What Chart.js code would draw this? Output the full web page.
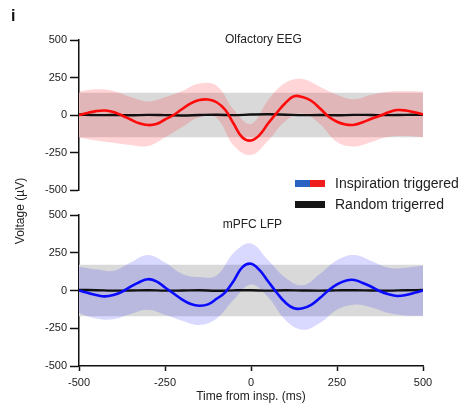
<!DOCTYPE html>
<html>
<head>
<meta charset="utf-8">
<script src="https://cdn.jsdelivr.net/npm/chart.js@4.4.1/dist/chart.umd.min.js"></script>
<style>
  html, body { margin: 0; background: #fff; }
  #wrap { position: relative; width: 461px; height: 403px; }
  #wrap canvas { position: absolute; left: 0; top: 0; }
</style>
</head>
<body>
<div id="wrap">
  <canvas id="eeg" width="461" height="403"></canvas>
  <canvas id="lfp" width="461" height="403"></canvas>
</div>
<script>
// time axis (ms from inspiration onset)
const tFine = [-500, -475, -450, -425, -400, -375, -350, -325, -300, -275, -250, -225, -200, -175, -150, -125, -100, -75, -50, -25,
  0, 25, 50, 75, 100, 125, 150, 175, 200, 225, 250, 275, 300, 325, 350, 375, 400, 425, 450, 475, 500];
const tBand = [-500, -450, -400, -350, -300, -250, -200, -150, -100, -50, 0, 50, 100, 150, 200, 250, 300, 350, 400, 450, 500];
const tEdge = [-500, 500];

const xTicks = [-500, -250, 0, 250, 500];
const yTicks = [-500, -250, 0, 250, 500];

// olfactory EEG, inspiration triggered (µV)
const eegMean = [0, 14, 26, 30, 20, -3, -30, -55, -67, -60, -30, 0, 40, 78, 100, 103, 85, 35, -60, -150,
  -170, -133, -55, 15, 80, 125, 120, 95, 45, -10, -45, -63, -65, -48, -25, -5, 18, 33, 30, 18, 4];
const eegUpper = [156, 171, 160, 120, 90, 118, 160, 210, 195, 35, -60, 100, 215, 240, 188, 135, 105, 135, 155, 158, 156];
const eegLower = [-150, -170, -185, -200, -207, -150, -80, -15, -20, -205, -267, -170, -40, 10, -60, -180, -210, -180, -145, -140, -148];
// olfactory EEG, random triggered
const eegRandom = [3, -1, 0, -2, 1, -1, -3, 0, 2, -1, 3, 5, 2, -1, 0, -2, 1, 0, -1, 1, 2];
const eegRandomUpper = [148, 148];
const eegRandomLower = [-148, -148];

// mPFC LFP, inspiration triggered (µV)
const lfpMean = [0, -15, -30, -39, -30, -8, 25, 55, 75, 60, 20, -20, -60, -90, -101, -92, -55, -12, 65, 155,
  177, 135, 60, -15, -80, -118, -118, -95, -50, 0, 40, 65, 70, 50, 25, -5, -25, -36, -30, -15, 0];
const lfpUpper = [158, 140, 130, 185, 235, 185, 110, 90, 100, 250, 312, 200, 85, 35, 110, 200, 235, 195, 150, 150, 165];
const lfpLower = [-150, -185, -190, -155, -127, -160, -200, -228, -185, -60, 40, -45, -195, -260, -215, -127, -94, -112, -149, -165, -167];
// mPFC LFP, random triggered
const lfpRandom = [4, 2, -1, 0, 2, -1, 0, 2, -2, 1, 2, -1, 2, 0, -1, 1, 2, 0, -1, 2, 3];
const lfpRandomUpper = [170, 170];
const lfpRandomLower = [-170, -170];

Chart.defaults.font.family = "'Liberation Sans', Arial, sans-serif";
Chart.defaults.color = "#222";
Chart.defaults.animation = false;
Chart.defaults.plugins.legend.display = false;
Chart.defaults.plugins.tooltip.enabled = false;

const INK = "#111";

function pts(ts, ys) { return ts.map((t, i) => ({ x: t, y: ys[i] })); }

function panel(p) {
  const flat = { pointRadius: 0, tension: 0.4, fill: false };
  return [
    { ...flat, data: pts(tFine, p.mean), borderColor: p.line, borderWidth: 2.6, order: 0 },
    { ...flat, data: pts(tBand, p.rnd), borderColor: INK, borderWidth: 2.4, order: 1 },
    { ...flat, data: pts(tBand, p.up), borderWidth: 0, backgroundColor: p.shade, fill: "+1", order: 2 },
    { ...flat, data: pts(tBand, p.lo), borderWidth: 0, order: 2 },
    { ...flat, data: pts(tEdge, p.rUp), borderWidth: 0, tension: 0, backgroundColor: "#d9d9d9", fill: "+1", order: 3 },
    { ...flat, data: pts(tEdge, p.rLo), borderWidth: 0, tension: 0, order: 3 },
  ];
}

function yAxis() {
  return {
    min: -500, max: 500,
    afterBuildTicks: (s) => { s.ticks = yTicks.map((v) => ({ value: v })); },
    afterFit: (s) => { s.width = 79; },
    grid: { drawOnChartArea: false, tickLength: 9, tickColor: INK, tickWidth: 1.5 },
    border: { color: INK, width: 1.5 },
    ticks: { color: "#222", font: { size: 11 }, padding: 3 },
  };
}

// panel heading, anchored in data units
function heading(text, xv, yv) {
  return {
    id: "heading",
    afterDraw(chart) {
      const { ctx, scales } = chart;
      ctx.save();
      ctx.font = "12px 'Liberation Sans', Arial, sans-serif";
      ctx.fillStyle = "#222";
      ctx.textAlign = "center";
      ctx.textBaseline = "middle";
      ctx.fillText(text, scales.x.getPixelForValue(xv), scales.y.getPixelForValue(yv));
      ctx.restore();
    },
  };
}

// figure furniture: panel letter, shared y title, legend
const furniture = {
  id: "furniture",
  afterDraw(chart) {
    const ctx = chart.ctx;
    ctx.save();
    ctx.fillStyle = "#111";
    ctx.font = "bold 16px 'Liberation Sans', Arial, sans-serif";
    ctx.textBaseline = "middle";
    ctx.fillText("i", 11, 17);

    ctx.fillStyle = "#222";
    ctx.font = "12px 'Liberation Sans', Arial, sans-serif";
    ctx.translate(21, 211);
    ctx.rotate(-Math.PI / 2);
    ctx.textAlign = "center";
    ctx.fillText("Voltage (\u00b5V)", 0, 0);
    ctx.restore();

    ctx.save();
    ctx.fillStyle = "#2a62c4";
    ctx.fillRect(295, 180, 15, 7);
    ctx.fillStyle = "#ee1c1c";
    ctx.fillRect(310, 180, 15, 7);
    ctx.fillStyle = "#151515";
    ctx.fillRect(295, 201, 30, 7);
    ctx.fillStyle = "#222";
    ctx.font = "14px 'Liberation Sans', Arial, sans-serif";
    ctx.textBaseline = "middle";
    ctx.fillText("Inspiration triggered", 335, 184);
    ctx.fillText("Random trigerred", 335, 205);
    ctx.restore();
  },
};

new Chart(document.getElementById("eeg"), {
  type: "line",
  data: {
    datasets: panel({
      mean: eegMean, up: eegUpper, lo: eegLower, rnd: eegRandom, rUp: eegRandomUpper, rLo: eegRandomLower,
      line: "#ff0a0a", shade: "rgba(255, 30, 40, 0.19)",
    }),
  },
  options: {
    responsive: false,
    layout: { padding: { left: 0, top: 40, right: 38, bottom: 213 } },
    scales: {
      x: { type: "linear", min: -500, max: 500, display: false },
      y: yAxis(),
    },
  },
  plugins: [heading("Olfactory EEG", 36, 500), furniture],
});

new Chart(document.getElementById("lfp"), {
  type: "line",
  data: {
    datasets: panel({
      mean: lfpMean, up: lfpUpper, lo: lfpLower, rnd: lfpRandom, rUp: lfpRandomUpper, rLo: lfpRandomLower,
      line: "#0a0aff", shade: "rgba(30, 30, 255, 0.17)",
    }),
  },
  options: {
    responsive: false,
    layout: { padding: { left: 0, top: 215, right: 38, bottom: 0 } },
    scales: {
      x: {
        type: "linear", min: -500, max: 500,
        afterBuildTicks: (s) => { s.ticks = xTicks.map((v) => ({ value: v })); },
        afterFit: (s) => { s.height = 37; },
        grid: { drawOnChartArea: false, tickLength: 5, tickColor: INK, tickWidth: 1.5 },
        border: { color: INK, width: 1.5 },
        ticks: { color: "#222", font: { size: 11 }, padding: 5, maxRotation: 0 },
        title: { display: true, text: "Time from insp. (ms)", color: "#222", font: { size: 12 }, padding: { top: 0, bottom: -1 } },
      },
      y: yAxis(),
    },
  },
  plugins: [heading("mPFC LFP", 4, 439)],
});
</script>
</body>
</html>
